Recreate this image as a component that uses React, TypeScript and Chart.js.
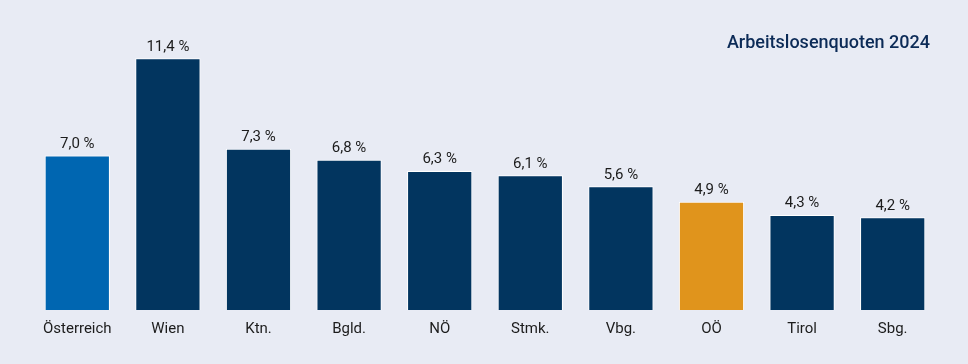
import React, { useEffect, useRef } from "react";
import { Chart, registerables } from "chart.js";

Chart.register(...registerables);

const categories = ["Österreich", "Wien", "Ktn.", "Bgld.", "NÖ", "Stmk.", "Vbg.", "OÖ", "Tirol", "Sbg."];
const values = [7.0, 11.4, 7.3, 6.8, 6.3, 6.1, 5.6, 4.9, 4.3, 4.2];
const barColors = ["#0066b1", "#02355f", "#02355f", "#02355f", "#02355f", "#02355f", "#02355f", "#e0941c", "#02355f", "#02355f"];
const chartTitle = "Arbeitslosenquoten 2024";

const BG = "#e8ebf4";

export default function App() {
  const ref = useRef<HTMLCanvasElement | null>(null);
  useEffect(() => {
    document.body.style.margin = "0";
    document.body.style.background = BG;
    const canvas = ref.current!;
    const labelPlugin = {
      id: "labels",
      afterDatasetsDraw(chart: any) {
        const ctx = chart.ctx;
        const meta = chart.getDatasetMeta(0);
        ctx.save();
        ctx.font = "15px Roboto";
        ctx.fillStyle = "#1c1c1c";
        ctx.textAlign = "center";
        ctx.textBaseline = "bottom";
        meta.data.forEach((el: any, i: number) => {
          const txt = values[i].toFixed(1).replace(".", ",") + " %";
          ctx.fillText(txt, el.x, el.y - 4);
        });
        ctx.font = "500 18px Roboto";
        ctx.fillStyle = "#0c2b57";
        ctx.textAlign = "right";
        ctx.textBaseline = "middle";
        ctx.fillText(chartTitle, 930, 43);
        ctx.restore();
      },
    };
    const chart = new Chart(canvas, {
      type: "bar",
      data: {
        labels: categories,
        datasets: [
          {
            data: values,
            backgroundColor: barColors,
            borderColor: "#ffffff",
            borderWidth: 1,
            barPercentage: 0.72,
            categoryPercentage: 1,
          },
        ],
      },
      options: {
        animation: false,
        responsive: false,
        maintainAspectRatio: false,
        layout: { padding: { left: 32, right: 30, top: 45, bottom: 16 } },
        plugins: { legend: { display: false }, tooltip: { enabled: false }, title: { display: false } },
        scales: {
          x: {
            grid: { display: false, drawTicks: false },
            border: { display: false },
            ticks: { color: "#1c1c1c", font: { family: "Roboto", size: 15 }, padding: 10, maxRotation: 0 },
          },
          y: { display: false, min: 0, max: 12 },
        },
      },
      plugins: [labelPlugin],
    });
    return () => chart.destroy();
  }, []);
  return <canvas ref={ref} width={968} height={364} style={{ display: "block", background: BG }} />;
}
